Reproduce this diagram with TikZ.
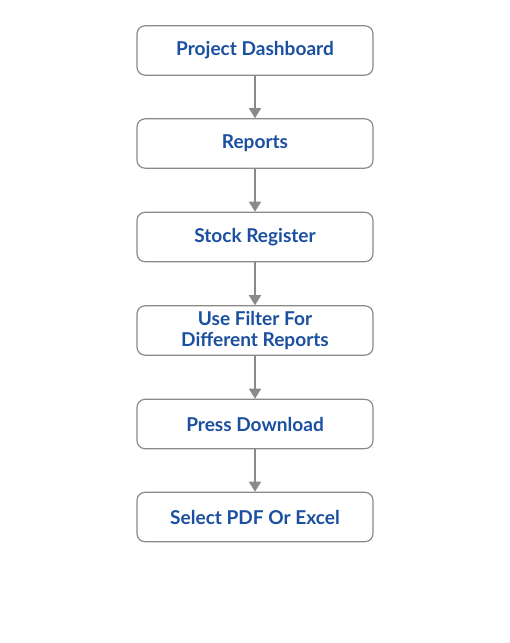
\documentclass[tikz,border=0pt]{standalone}
\usepackage{fontspec}
\setmainfont{Lato}
\usetikzlibrary{arrows.meta}
\definecolor{txtblue}{HTML}{1B4FA0}
\definecolor{edgegray}{HTML}{8A8A8A}
\begin{document}
\begin{tikzpicture}[x=0.75pt,y=-0.75pt,
  stepbox/.style={draw=edgegray,line width=0.9pt,rounded corners=6pt,fill=white,
    minimum width=177pt,minimum height=37pt,inner sep=0pt,align=center,
    text=txtblue,font=\fontsize{14.3}{15.75}\selectfont\bfseries},
  flow/.style={draw=edgegray,line width=1pt,-{Triangle[width=9pt,length=7.5pt]}}]
\useasboundingbox (0,0) rectangle (510,643);
\node[stepbox] (a) at (255,50.5) {Project Dashboard};
\node[stepbox] (b) at (255,143.5) {Reports};
\node[stepbox] (c) at (255,237) {Stock Register};
\node[stepbox] (d) at (255,330.5) {Use Filter For\\Different Reports};
\node[stepbox] (e) at (255,424) {Press Download};
\node[stepbox] (f) at (255,517) {Select PDF Or Excel};
\draw[flow] (a) -- (b);
\draw[flow] (b) -- (c);
\draw[flow] (c) -- (d);
\draw[flow] (d) -- (e);
\draw[flow] (e) -- (f);
\end{tikzpicture}
\end{document}
